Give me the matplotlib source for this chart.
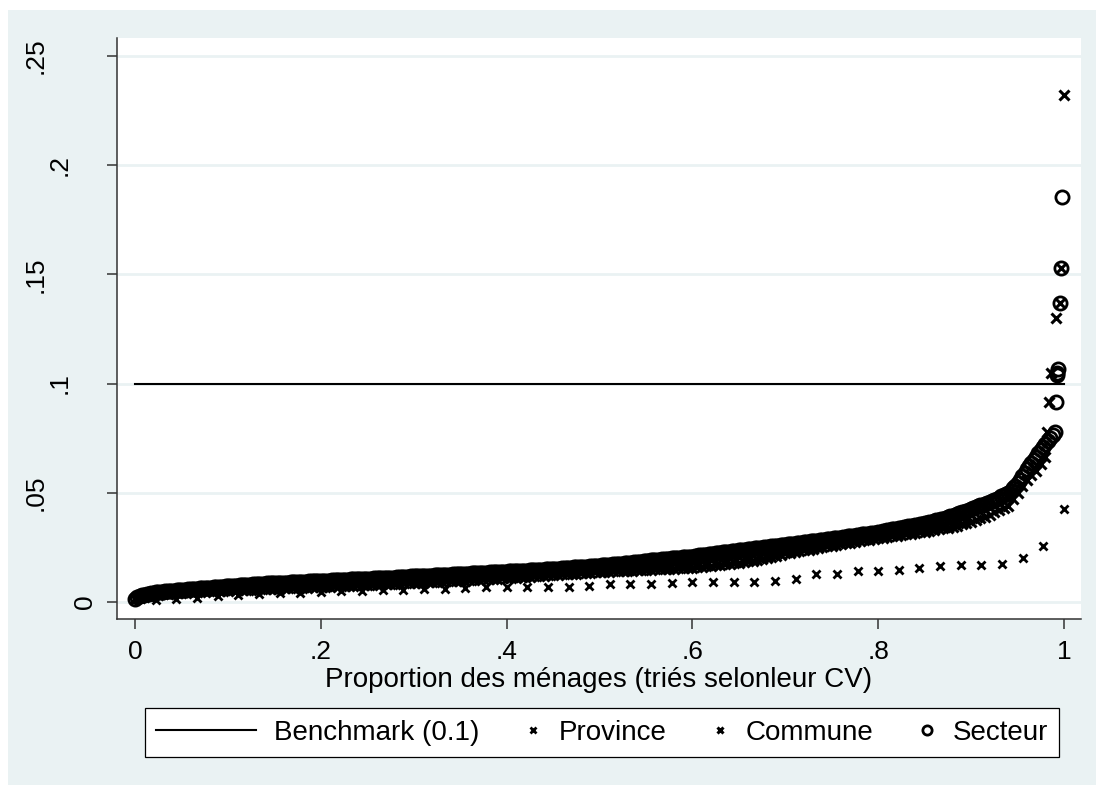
# CV of household estimates, sorted: province / commune / secteur vs the 0.1 benchmark
import numpy as np
import matplotlib
matplotlib.use('Agg')
import matplotlib.pyplot as plt
import matplotlib.transforms as mtransforms
from matplotlib.patches import Rectangle
from matplotlib.legend_handler import HandlerLine2DCompound

plt.rcParams['font.family'] = ['Liberation Sans', 'DejaVu Sans']

benchmark = 0.1
bench_x = [0.0, 1.0]

# 45 provinces, sorted CV
province = [0.0011, 0.0015, 0.0020, 0.0026, 0.0031, 0.0035, 0.0040, 0.0043, 0.0046, 0.0050,
            0.0052, 0.0054, 0.0056, 0.0058, 0.0061, 0.0064, 0.0067, 0.0069, 0.0069, 0.0069,
            0.0070, 0.0071, 0.0081, 0.0084, 0.0084, 0.0087, 0.0090, 0.0090, 0.0090, 0.0093,
            0.0096, 0.0105, 0.0127, 0.0127, 0.0140, 0.0140, 0.0148, 0.0156, 0.0165, 0.0169,
            0.0169, 0.0176, 0.0203, 0.0256, 0.0424]

# commune, read every 0.005 of the x axis (0 .. 0.98)
commune = [0.0012, 0.0018, 0.0024, 0.0029, 0.0032, 0.0034, 0.0037, 0.0038, 0.0040, 0.0041,
           0.0042, 0.0043, 0.0044, 0.0045, 0.0046, 0.0047, 0.0048, 0.0049, 0.0050, 0.0051,
           0.0052, 0.0053, 0.0054, 0.0055, 0.0055, 0.0056, 0.0057, 0.0058, 0.0059, 0.0059,
           0.0060, 0.0061, 0.0062, 0.0063, 0.0064, 0.0064, 0.0065, 0.0066, 0.0067, 0.0068,
           0.0068, 0.0069, 0.0070, 0.0071, 0.0072, 0.0073, 0.0074, 0.0075, 0.0076, 0.0076,
           0.0077, 0.0078, 0.0079, 0.0080, 0.0081, 0.0082, 0.0083, 0.0084, 0.0085, 0.0086,
           0.0087, 0.0088, 0.0089, 0.0090, 0.0091, 0.0092, 0.0093, 0.0094, 0.0095, 0.0096,
           0.0097, 0.0098, 0.0100, 0.0101, 0.0102, 0.0103, 0.0105, 0.0106, 0.0107, 0.0108,
           0.0110, 0.0111, 0.0112, 0.0114, 0.0115, 0.0116, 0.0118, 0.0119, 0.0120, 0.0122,
           0.0123, 0.0124, 0.0126, 0.0127, 0.0129, 0.0130, 0.0131, 0.0133, 0.0134, 0.0136,
           0.0137, 0.0138, 0.0139, 0.0140, 0.0141, 0.0142, 0.0143, 0.0144, 0.0145, 0.0146,
           0.0147, 0.0148, 0.0149, 0.0150, 0.0151, 0.0152, 0.0153, 0.0154, 0.0155, 0.0156,
           0.0157, 0.0159, 0.0161, 0.0163, 0.0165, 0.0167, 0.0170, 0.0172, 0.0175, 0.0177,
           0.0180, 0.0183, 0.0186, 0.0189, 0.0192, 0.0196, 0.0200, 0.0206, 0.0212, 0.0217,
           0.0222, 0.0226, 0.0230, 0.0233, 0.0237, 0.0240, 0.0244, 0.0247, 0.0251, 0.0254,
           0.0258, 0.0261, 0.0265, 0.0268, 0.0272, 0.0275, 0.0278, 0.0282, 0.0285, 0.0289,
           0.0292, 0.0295, 0.0298, 0.0301, 0.0304, 0.0307, 0.0310, 0.0313, 0.0316, 0.0319,
           0.0322, 0.0325, 0.0329, 0.0333, 0.0337, 0.0340, 0.0345, 0.0350, 0.0356, 0.0362,
           0.0368, 0.0375, 0.0383, 0.0391, 0.0400, 0.0410, 0.0420, 0.0430, 0.0440, 0.0470,
           0.0500, 0.0530, 0.0560, 0.0580, 0.0600, 0.0632, 0.0665]
commune_tail_x = [0.982, 0.984, 0.986, 0.9915, 0.9952, 0.9965, 1.0]
commune_tail = [0.0778, 0.0916, 0.1049, 0.1298, 0.1371, 0.1531, 0.2320]

# secteur, in units of 1e-4, read every 0.0025 of the x axis (0 .. 0.985)
secteur_e4 = [
    15, 21, 26, 30, 33, 36, 38, 40, 42, 44, 45, 46, 47, 48, 49, 50, 51, 52, 53, 54,
    55, 56, 57, 58, 58, 59, 60, 61, 62, 63, 64, 65, 65, 66, 67, 68, 69, 70, 70, 71,
    72, 73, 73, 74, 75, 76, 76, 77, 78, 79, 79, 80, 81, 82, 82, 83, 84, 85, 85, 86,
    86, 87, 87, 88, 88, 89, 89, 90, 90, 91, 91, 92, 92, 93, 93, 94, 94, 95, 95, 96,
    96, 97, 97, 98, 98, 99, 99, 100, 100, 101, 101, 102, 102, 103, 103, 104, 104, 105, 105, 106,
    106, 107, 107, 108, 108, 109, 109, 110, 110, 111, 111, 112, 112, 113, 113, 114, 114, 115, 116, 117,
    117, 118, 118, 119, 119, 120, 120, 121, 121, 122, 122, 123, 123, 124, 124, 125, 125, 126, 127, 128,
    128, 129, 129, 130, 130, 131, 131, 132, 132, 133, 133, 134, 134, 135, 135, 136, 137, 138, 138, 139,
    139, 140, 140, 141, 141, 142, 142, 143, 143, 144, 145, 146, 146, 147, 147, 148, 148, 149, 150, 151,
    151, 152, 152, 153, 154, 155, 155, 156, 157, 158, 158, 159, 160, 161, 161, 162, 163, 164, 164, 165,
    166, 167, 168, 169, 170, 171, 172, 173, 174, 175, 176, 177, 178, 179, 180, 182, 183, 184, 185, 187,
    188, 189, 190, 191, 192, 193, 194, 195, 196, 197, 198, 199, 200, 201, 202, 203, 204, 205, 206, 207,
    208, 210, 211, 213, 214, 215, 216, 218, 219, 221, 222, 224, 225, 227, 228, 229, 230, 232, 233, 235,
    236, 238, 239, 240, 241, 243, 244, 245, 246, 248, 249, 251, 252, 253, 254, 256, 257, 258, 259, 261,
    262, 264, 265, 266, 267, 269, 270, 272, 273, 274, 275, 277, 278, 280, 281, 282, 283, 285, 286, 288,
    289, 291, 292, 294, 295, 297, 298, 300, 301, 303, 304, 306, 307, 309, 310, 312, 313, 315, 316, 318,
    320, 322, 324, 326, 328, 330, 332, 334, 336, 338, 340, 342, 344, 346, 348, 350, 352, 354, 356, 358,
    360, 362, 365, 368, 371, 374, 376, 379, 382, 385, 388, 392, 395, 399, 402, 406, 410, 414, 417, 421,
    425, 429, 433, 438, 442, 446, 450, 455, 459, 464, 468, 473, 478, 484, 489, 495, 500, 510, 520, 532,
    545, 560, 575, 592, 610, 624, 638, 652, 665, 680, 694, 708, 722, 736, 750]
secteur_tail_x = [0.9885, 0.990, 0.991, 0.9925, 0.993, 0.9935, 0.9955, 0.9965, 0.998]
secteur_tail = [0.0765, 0.0780, 0.0916, 0.1038, 0.1050, 0.1065, 0.1371, 0.1531, 0.1853]

xticks = [0, 0.2, 0.4, 0.6, 0.8, 1.0]
xticklabels = ['0', '.2', '.4', '.6', '.8', '1']
yticks = [0, 0.05, 0.10, 0.15, 0.20, 0.25]
yticklabels = ['0', '.05', '.1', '.15', '.2', '.25']

# x positions = proportion of units (rank / n)
x_prov = np.arange(1, len(province) + 1) / len(province)
x_com = np.concatenate([np.arange(len(commune)) * 0.005, commune_tail_x])
y_com = np.concatenate([commune, commune_tail])
x_sec = np.concatenate([np.arange(len(secteur_e4)) * 0.0025, secteur_tail_x])
y_sec = np.concatenate([np.array(secteur_e4) / 1e4, secteur_tail])

bg = '#EAF2F3'
dark = '#333333'


class MarkerRight(HandlerLine2DCompound):
    # put the legend marker near the right end of the handle box
    def get_xdata(self, legend, xdescent, ydescent, width, height, fontsize):
        xdata = np.array([-xdescent, -xdescent + width])
        return xdata, np.array([-xdescent + 0.92 * width])


fig = plt.figure(figsize=(10.96, 7.85), dpi=100, facecolor='white')
fig.add_artist(Rectangle((8 / 1096, 0), 1, 1 - 10 / 785, transform=fig.transFigure,
                         facecolor=bg, edgecolor='none', zorder=-1))
ax = fig.add_axes([117 / 1096, 1 - 619 / 785, (1081 - 117) / 1096, (619 - 38) / 785])
ax.set_facecolor('white')

l_bench, = ax.plot(bench_x, [benchmark, benchmark], color='black', lw=1.5)
l_prov, = ax.plot(x_prov, province, ls='none', marker='x', ms=5.5, mew=2.0, color='black')
l_com, = ax.plot(x_com, y_com, ls='none', marker='x', ms=6.5, mew=2.2, color='black')
l_sec, = ax.plot(x_sec, y_sec, ls='none', marker='o', ms=9.5, mew=2.0,
                 mfc='none', mec='black')

ax.set_xlim(-0.0194, 1.0183)
ax.set_ylim(-0.0078, 0.2582)
ax.set_xticks(xticks)
ax.set_xticklabels(xticklabels)
ax.set_yticks(yticks)
ax.set_yticklabels([])
ax.yaxis.grid(True, color=bg, lw=2)
ax.set_axisbelow(True)

for s in ['top', 'right']:
    ax.spines[s].set_visible(False)
for s in ['left', 'bottom']:
    ax.spines[s].set_color(dark)
    ax.spines[s].set_linewidth(1.1)
ax.tick_params(direction='out', length=7.2, width=1.1, color=dark, labelsize=19)
ax.tick_params(axis='x', pad=8)

# Stata-style rotated y labels: position shifts with label length
shift_px = {1: 20, 2: 45, 3: 69}
for v, lab in zip(yticks, yticklabels):
    tr = ax.get_yaxis_transform() + mtransforms.ScaledTranslation(
        -shift_px[len(lab)] / 100, 0, fig.dpi_scale_trans)
    ax.text(0, v, lab, transform=tr, rotation=90, ha='right', va='center', fontsize=19)

ax.set_xlabel('Proportion des ménages (triés selonleur CV)', fontsize=20, labelpad=2)

mh = MarkerRight()
leg = fig.legend([l_bench, l_prov, l_com, l_sec],
                 ['Benchmark (0.1)', 'Province', 'Commune', 'Secteur'],
                 loc='center', bbox_to_anchor=(602 / 1096, 52.5 / 785), ncol=4, fontsize=20,
                 handlelength=3.6, handletextpad=0.65, columnspacing=-1.4, borderpad=0.4,
                 fancybox=False, edgecolor='black', framealpha=1, markerscale=0.7,
                 handler_map={l_prov: mh, l_com: mh, l_sec: mh})
leg.get_frame().set_linewidth(0.9)

fig.savefig('out.png', dpi=100, facecolor=fig.get_facecolor())
